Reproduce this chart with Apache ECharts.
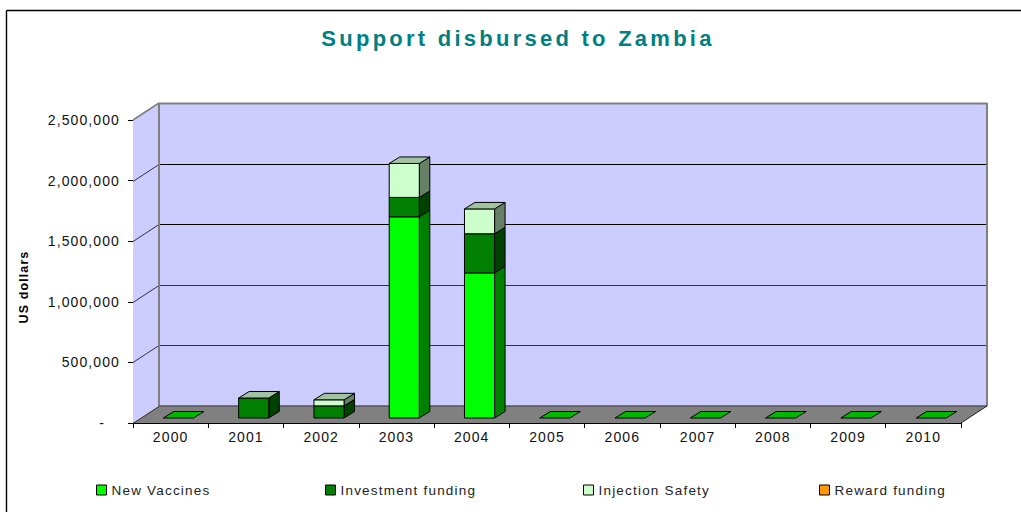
<!DOCTYPE html>
<html><head><meta charset="utf-8">
<style>
html,body{margin:0;padding:0;background:#fff}
#c{width:1021px;height:512px}
#c svg text{letter-spacing:1.1px}
#c svg text[fill="#222"],#c svg text[style*="#222"]{letter-spacing:1.2px}
#c svg text[fill="#008080"],#c svg text[style*="#008080"]{letter-spacing:3.25px}
</style>
<script src="https://cdn.jsdelivr.net/npm/echarts@6/dist/echarts.min.js"></script>
</head><body><div id="c"></div>
<script>
const years=['2000','2001','2002','2003','2004','2005','2006','2007','2008','2009','2010'];
const newVaccines=[0,0,0,1660000,1197000,0,0,0,0,0,0];
const investment=[0,165000,100000,160000,323000,0,0,0,0,0,0];
const injection=[0,0,50000,280000,205000,0,0,0,0,0,0];
const reward=[0,0,0,0,0,0,0,0,0,0,0];
const yTicks=[0,500000,1000000,1500000,2000000,2500000];
const seriesNames=['New Vaccines','Investment funding','Injection Safety','Reward funding'];
const legendLeft=[91,320,578,814];

const DX=26,DY=-17;           // wall depth
const OX=7.8,OY=-5;           // bar offset from the front plane
const BX=10.5,BY=-6.5;        // bar depth
const fronts=['#00ff00','#008000','#ccffcc','#ff9900'];
const sides=['#008000','#004000','#668066','#804c00'];
const tops=['#00b800','#005c00','#9fc49f','#b36b00'];
const all=[newVaccines,investment,injection,reward];
const totals=years.map((_,i)=>all.reduce((s,a)=>s+a[i],0));

function backdrop(params,api){
  const cs=params.coordSys,x0=cs.x,x1=cs.x+cs.width,y1=cs.y+cs.height,y0=cs.y;
  const ch=[];
  const poly=(pts,fill,stroke,w)=>ch.push({type:'polygon',shape:{points:pts},silent:true,
    style:{fill:fill,stroke:stroke||null,lineWidth:w||0}});
  const line=(a,b,c,w)=>ch.push({type:'line',shape:{x1:a[0],y1:a[1],x2:b[0],y2:b[1]},silent:true,
    style:{stroke:c,lineWidth:w||1}});
  poly([[x0+DX,y0+DY],[x1+DX,y0+DY],[x1+DX,y1+DY],[x0+DX,y1+DY]],'#ccccff');
  poly([[x0,y0],[x0+DX,y0+DY],[x0+DX,y1+DY],[x0,y1]],'#ccccff');
  poly([[x0,y1],[x1,y1],[x1+DX,y1+DY],[x0+DX,y1+DY]],'#808080');
  yTicks.forEach(v=>{
    const y=Math.round(api.coord([0,v])[1])+0.5;
    if(v>0&&v<yTicks[yTicks.length-1]){
      line([x0+DX,y+DY],[x1+DX,y+DY],v>=1500000?'#000':'#333');
    }
    if(v<yTicks[yTicks.length-1]) line([x0,y],[x0+DX,y+DY],'#333');
  });
  line([x0+DX,y0+DY+0.5],[x1+DX,y0+DY+0.5],'#808080',2);
  line([x0+DX,y0+DY],[x0+DX,y1+DY],'#808080',2);
  line([x1+DX,y0+DY],[x1+DX,y1+DY],'#808080',2);
  line([x0,y0],[x0+DX,y0+DY],'#808080',1.5);
  line([x0+DX,y1+DY],[x1+DX,y1+DY],'#555',1.5);
  line([x1,y1],[x1+DX,y1+DY],'#222',1);
  return {type:'group',children:ch};
}

function barItem(k){
  return function(params,api){
    const i=api.value(0),base=api.value(1),val=api.value(2);
    const total=totals[i];
    const w=api.size([1,0])[0]*0.4;
    const c=api.coord([i,0]);
    const bot=api.coord([i,base])[1]+OY;
    const top=api.coord([i,base+val])[1]+OY;
    const l=c[0]+OX-w/2,r=c[0]+OX+w/2;
    const ch=[];
    const st=(f)=>({fill:f,stroke:'#000',lineWidth:1,lineJoin:'round'});
    if(val>0){
      ch.push({type:'polygon',shape:{points:[[r,top],[r+BX,top+BY],[r+BX,bot+BY],[r,bot]]},style:st(sides[k])});
      ch.push({type:'rect',shape:{x:l,y:top,width:r-l,height:bot-top},style:st(fronts[k])});
    }
    if(total>0&&k===2||total===0&&k===0){
      ch.push({type:'polygon',shape:{points:[[l,top],[l+BX,top+BY],[r+BX,top+BY],[r,top]]},style:st(tops[k])});
    }
    return {type:'group',children:ch};
  };
}

const barSeries=seriesNames.map((name,k)=>({
  type:'custom',name:name,coordinateSystem:'cartesian2d',z:3+k,clip:false,silent:true,
  itemStyle:{color:fronts[k]},
  renderItem:barItem(k),
  encode:{x:0,y:2},
  data:years.map((_,i)=>[i,all.slice(0,k).reduce((s,a)=>s+a[i],0),all[k][i]])
}));

const chart=echarts.init(document.getElementById('c'),null,{renderer:'svg',width:1021,height:512});
chart.setOption({
  animation:false,
  backgroundColor:'#fff',
  title:{text:'Support disbursed to Zambia',left:513,top:22,textAlign:'center',
    textStyle:{color:'#008080',fontFamily:'Liberation Sans',fontWeight:'bold',fontSize:22}},
  grid:{left:133,top:120,width:828,height:303,containLabel:false},
  legend:seriesNames.map((n,k)=>({
    data:[{name:n,icon:'rect',itemStyle:{color:fronts[k],borderColor:'#000',borderWidth:1}}],
    left:legendLeft[k],top:478,itemWidth:10,itemHeight:10,selectedMode:false,
    textStyle:{fontFamily:'Liberation Sans',fontSize:13.5,color:'#222',padding:[0,0,4,0]}
  })),
  xAxis:{type:'category',data:years,boundaryGap:true,
    axisLine:{lineStyle:{color:'#000',width:1}},
    axisTick:{show:true,length:5,lineStyle:{color:'#000'},alignWithLabel:false},
    axisLabel:{margin:7,interval:0,color:'#111',fontFamily:'Liberation Sans',fontSize:14},
    splitLine:{show:false}},
  yAxis:{type:'value',min:0,max:2500000,interval:500000,
    axisLine:{show:true,lineStyle:{color:'#000',width:1}},
    axisTick:{show:true,length:5,lineStyle:{color:'#000'}},
    splitLine:{show:false},
    axisLabel:{margin:13,color:'#111',fontFamily:'Liberation Sans',fontSize:14,
      formatter:v=>v===0?'-\u00a0\u00a0\u00a0':v.toLocaleString('en-US')}},
  graphic:[
    {type:'line',shape:{x1:6.5,y1:10.5,x2:1021,y2:10.5},style:{stroke:'#000',lineWidth:1.4},silent:true},
    {type:'line',shape:{x1:6.5,y1:10.5,x2:6.5,y2:512},style:{stroke:'#000',lineWidth:1.4},silent:true},
    {type:'text',x:24,y:287,rotation:Math.PI/2,silent:true,
      style:{text:'US dollars',fill:'#000',font:'bold 12.5px "Liberation Sans"',align:'center',verticalAlign:'middle'}}
  ],
  series:[{type:'custom',name:'wall',coordinateSystem:'cartesian2d',z:1,clip:false,silent:true,
    renderItem:backdrop,data:[[0,0]],encode:{x:0,y:1}}].concat(barSeries)
});
</script></body></html>
